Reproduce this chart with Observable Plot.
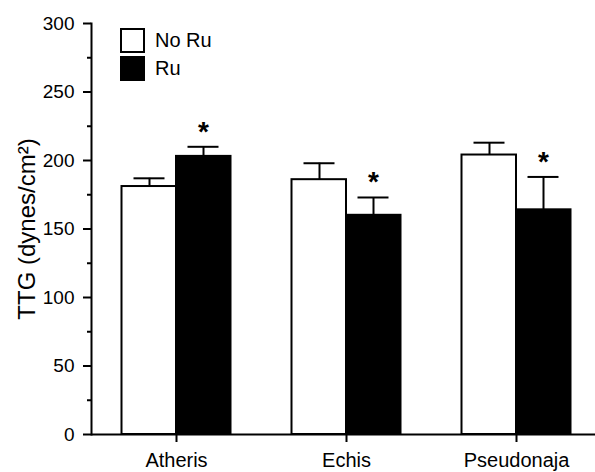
<!DOCTYPE html>
<html>
<head>
<meta charset="utf-8">
<script src="https://cdn.jsdelivr.net/npm/d3@7"></script>
<script src="https://cdn.jsdelivr.net/npm/@observablehq/plot@0.6"></script>
<style>
  html, body { margin: 0; padding: 0; background: #fff; }
  #wrap { position: relative; width: 595px; height: 472px; font-family: "Liberation Sans", Arial, sans-serif; }
  #legend { position: absolute; left: 120px; top: 26px; font-size: 20px; color: #000; }
  .item { display: flex; align-items: center; height: 28px; }
  .sw { width: 21px; height: 21px; border: 2px solid #000; box-sizing: content-box; }
  .lab { margin-left: 10px; }
</style>
</head>
<body>
<div id="wrap">
  <div id="chart"></div>
  <div id="legend"></div>
</div>
<script>
const species = ["Atheris", "Echis", "Pseudonaja"];
const groups = ["No Ru", "Ru"];
const groupFill = ["white", "black"];
const noRuMean = [181, 186, 204];
const noRuErr = [6, 12, 9];
const ruMean = [203, 160, 164];
const ruErr = [7, 13, 24];
const significant = [true, true, true];
const yMajorTicks = [0, 50, 100, 150, 200, 250, 300];
const yMinorTicks = [25, 75, 125, 175, 225, 275];
const yLabel = "TTG (dynes/cm²)";

const noRu = species.map((s, i) => ({species: s, group: "No Ru", value: noRuMean[i], err: noRuErr[i]}));
const ru = species.map((s, i) => ({species: s, group: "Ru", value: ruMean[i], err: ruErr[i], sig: significant[i]}));

const font = "'Liberation Sans', Arial, sans-serif";
const chart = Plot.plot({
  width: 595,
  height: 472,
  marginLeft: 91,
  marginRight: -6,
  marginTop: 23,
  marginBottom: 38,
  style: {fontFamily: font, background: "white", color: "black", overflow: "hidden"},
  x: {domain: species, padding: 0, label: null},
  y: {domain: [0, 300], label: null},
  marks: [
    Plot.barY(noRu, {x: "species", y: "value", fill: "white", stroke: "black", strokeWidth: 2, insetLeft: 30.5, insetRight: 85}),
    Plot.barY(ru, {x: "species", y: "value", fill: "black", stroke: "black", strokeWidth: 2, insetLeft: 85, insetRight: 30.5}),
    Plot.ruleX(noRu, {x: "species", y1: "value", y2: d => d.value + d.err, dx: -27, strokeWidth: 2}),
    Plot.ruleX(ru, {x: "species", y1: "value", y2: d => d.value + d.err, dx: 27, strokeWidth: 2}),
    Plot.tickY(noRu, {x: "species", y: d => d.value + d.err, insetLeft: 42.5, insetRight: 96.5, strokeWidth: 2}),
    Plot.tickY(ru, {x: "species", y: d => d.value + d.err, insetLeft: 96.5, insetRight: 42.5, strokeWidth: 2}),
    Plot.text(ru.filter(d => d.sig), {x: "species", y: d => d.value + d.err, text: () => "*", dx: 27, dy: -15, fontSize: 28, fontWeight: "bold", lineAnchor: "middle"}),
    Plot.frame({anchor: "left", strokeWidth: 2}),
    Plot.ruleY([0], {strokeWidth: 2}),
    Plot.axisY({ticks: yMajorTicks, tickSize: 8, tickPadding: 9, fontSize: 19, strokeWidth: 2, label: null}),
    Plot.axisY({ticks: yMinorTicks, tickSize: 4, text: null, strokeWidth: 2, label: null}),
    Plot.axisX({tickSize: 8, tickPadding: 10, fontSize: 20, strokeWidth: 2, label: null}),
    Plot.text([yLabel], {frameAnchor: "left", dx: -64, rotate: -90, fontSize: 24, textAnchor: "middle", text: d => d})
  ]
});
document.getElementById("chart").appendChild(chart);

const legend = document.getElementById("legend");
groups.forEach((g, i) => {
  const item = document.createElement("div");
  item.className = "item";
  const sw = document.createElement("div");
  sw.className = "sw";
  sw.style.background = groupFill[i];
  const lab = document.createElement("span");
  lab.className = "lab";
  lab.textContent = g;
  item.appendChild(sw);
  item.appendChild(lab);
  legend.appendChild(item);
});
</script>
</body>
</html>
